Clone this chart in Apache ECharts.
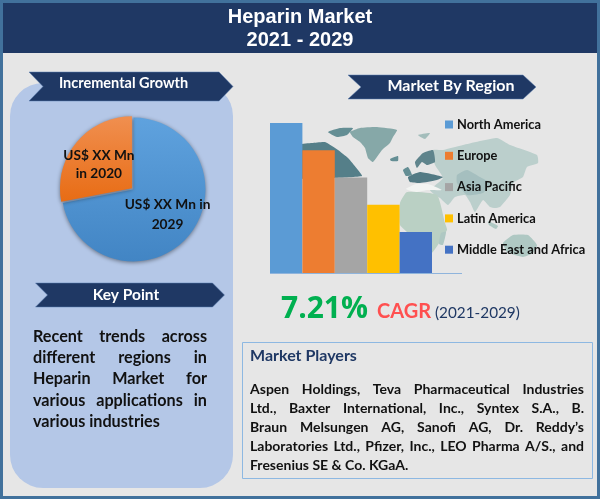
<!DOCTYPE html>
<html>
<head>
<meta charset="utf-8">
<style>html,body{margin:0;padding:0;background:#E6E6E6}#main{width:600px;height:499px}</style>
<script src="https://cdn.jsdelivr.net/npm/echarts@6/dist/echarts.min.js"></script>
</head>
<body>
<div id="main"></div>
<script>
var regionNames = ['North America', 'Europe', 'Asia Pacific', 'Latin America', 'Middle East and Africa'];
var regionValues = [5.5, 4.5, 3.5, 2.5, 1.5];
var regionColors = ['#5B9BD5', '#ED7D31', '#A5A5A5', '#FFC000', '#4472C4'];
var pieNames = ['US$ XX Mn in\n2029', 'US$ XX Mn\nin 2020'];
var pieValues = [72, 28];
var keyPointLines = ['Recent trends across', 'different regions in', 'Heparin Market for', 'various applications in', 'various industries'];
var playerLines = ['Aspen Holdings, Teva Pharmaceutical Industries', 'Ltd., Baxter International, Inc., Syntex S.A., B.', 'Braun Melsungen AG, Sanofi AG, Dr. Reddy\u2019s', 'Laboratories Ltd., Pfizer, Inc., LEO Pharma A/S., and', 'Fresenius SE & Co. KGaA.'];

var NAVY = '#1F3864';
var FONT = 'Lato';
var measure = document.createElement('canvas').getContext('2d');

// canvas text has no justify, so place the words one by one
function justified(lines, x, y, width, lineH, font, size) {
	var out = [];
	var fontStr = 'bold ' + size + 'px ' + font;
	measure.font = fontStr;
	lines.forEach(function (line, i) {
		var words = line.split(' ');
		var total = 0;
		words.forEach(function (w) { total += measure.measureText(w).width; });
		var last = i == lines.length - 1;
		var gap = last ? measure.measureText(' ').width : (width - total) / (words.length - 1);
		var cx = x;
		words.forEach(function (w) {
			out.push({
				type: 'text', z: 10, x: cx, y: y + i * lineH,
				style: { text: w, font: fontStr, fill: '#111', textVerticalAlign: 'middle' }
			});
			cx += measure.measureText(w).width + gap;
		});
	});
	return out;
}

function ribbon(x, y, w, h, notch, text, textX, textY, size) {
	return [{
		type: 'polygon', z: 5,
		shape: { points: [[x, y], [x + w - notch, y], [x + w, y + h / 2], [x + w - notch, y + h], [x, y + h], [x + notch, y + h / 2]] },
		style: { fill: NAVY, stroke: '#5B7FB0', lineWidth: 0.5 }
	}, {
		type: 'text', z: 6, x: textX, y: textY,
		style: { text: text, font: 'bold ' + size + 'px ' + FONT, fill: '#fff', textAlign: 'center', textVerticalAlign: 'middle' }
	}];
}

// faint world map behind the bars, decoration only
function land(points, fill) {
	return { type: 'polygon', z: 1, silent: true, shape: { points: points, smooth: 0.15 }, style: { fill: fill } };
}
var mapShapes = [
	land([[350, 132], [360, 128], [377, 127], [397, 130], [393, 137], [390, 143], [382, 150], [373, 162], [368, 158], [365, 148], [360, 142], [353, 137]], '#86A8A8'),
	land([[328, 132], [340, 128], [353, 128], [347, 135], [337, 137]], '#648E94'),
	land([[300, 145], [312, 143], [325, 142], [338, 150], [348, 158], [354, 165], [358, 170], [362, 176], [335, 178], [300, 178]], '#557F89'),
	land([[390, 159], [398, 156], [398, 161], [391, 161]], '#648E94'),
	land([[418, 135], [430, 133], [425, 139]], '#A3BDBB'),
	land([[433, 150], [443, 150], [463, 145], [497, 138], [510, 145], [537, 155], [538, 163], [527, 167], [523, 177], [513, 183], [510, 195], [500, 207], [495, 208], [490, 207], [483, 200], [475, 212], [470, 202], [465, 195], [455, 197], [448, 205], [440, 198], [435, 195], [430, 190], [443, 178], [435, 165]], '#BBCFCC'),
	land([[457, 175], [467, 170], [480, 177], [490, 183], [483, 193], [467, 195], [457, 183]], '#A5BFBF'),
	land([[400, 203], [407, 192], [437, 195], [445, 223], [447, 230], [432, 253], [420, 255], [410, 235], [400, 225]], '#BAD0C4'),
	land([[441, 233], [446, 232], [443, 245], [439, 244]], '#AFC8C3'),
	land([[503, 243], [513, 235], [528, 235], [537, 245], [533, 253], [523, 257], [507, 252]], '#AFC8C3'),
	land([[488, 221], [498, 226], [496, 229], [489, 225]], '#AFC8C3'),
	land([[403, 170], [408, 167], [412, 175], [406, 176]], '#648E94'),
	land([[415, 162], [423, 153], [433, 150], [435, 162], [427, 165], [422, 162], [417, 168]], '#5F848C'),
	land([[408, 177], [420, 172], [443, 177], [437, 180], [420, 183], [410, 182]], '#537A84'),
	land([[406, 189], [416, 184], [428, 184], [442, 190], [428, 190], [416, 192]], '#F2F4F2')
];

var graphics = [
	{ type: 'rect', z: -5, shape: { x: 1.5, y: 1.5, width: 597, height: 496 }, style: { fill: '#E6E6E6', stroke: '#41719C', lineWidth: 3 } },
	{ type: 'rect', z: -4, shape: { x: 3, y: 3, width: 594, height: 50 }, style: { fill: NAVY } },
	{ type: 'rect', z: -3, shape: { x: 10, y: 83, width: 223, height: 405, r: 33 }, style: { fill: '#B4C7E7' } },
	{ type: 'line', z: 3, shape: { x1: 270, y1: 273.5, x2: 462, y2: 273.5 }, style: { stroke: '#8FB4DC', lineWidth: 1 } },
	{ type: 'rect', z: 1, shape: { x: 242.5, y: 342.5, width: 350, height: 136 }, style: { fill: 'none', stroke: '#8DB8E2', lineWidth: 1 } },
	{ type: 'text', z: 6, x: 250, y: 356, style: { text: 'Market Players', font: 'bold 16px ' + FONT, fill: NAVY, textVerticalAlign: 'middle' } },
	{ type: 'text', z: 6, x: 281, y: 309, style: { text: '7.21%', font: 'bold 30px "Open Sans"', fill: '#00B050', textVerticalAlign: 'middle' } },
	{ type: 'text', z: 6, x: 377, y: 312, style: { text: 'CAGR', font: 'bold 20px ' + FONT, fill: '#FF5050', textVerticalAlign: 'middle' } },
	{ type: 'text', z: 6, x: 435, y: 313, style: { text: '(2021-2029)', font: '15.3px ' + FONT, fill: NAVY, textVerticalAlign: 'middle' } }
];
graphics = graphics.concat(mapShapes)
	.concat(ribbon(29, 72, 204, 29, 14, 'Incremental Growth', 123.5, 83, 14.5))
	.concat(ribbon(35.5, 283, 189, 24, 12, 'Key Point', 126, 295, 15.5))
	.concat(ribbon(348, 75, 188, 24, 13, 'Market By Region', 451, 86, 16))
	.concat(justified(keyPointLines, 33, 336.5, 174, 21.3, FONT, 16.2))
	.concat(justified(playerLines, 250, 389, 334, 19, FONT, 14));

var barSeries = regionNames.map(function (name, i) {
	return { name: name, type: 'bar', barWidth: 32.4, barGap: 0, z: 3, data: [regionValues[i]], itemStyle: { color: regionColors[i] } };
});

var chart = echarts.init(document.getElementById('main'));
chart.setOption({
	animation: false,
	title: {
		text: 'Heparin Market\n2021 - 2029', left: 'center', top: 1,
		textStyle: { color: '#fff', fontFamily: 'Liberation Sans', fontWeight: 'bold', fontSize: 20, lineHeight: 23 }
	},
	grid: { left: 270, top: 123, width: 162, height: 150 },
	xAxis: { type: 'category', data: ['2021'], show: false },
	yAxis: { type: 'value', min: 0, max: 5.5, show: false },
	legend: {
		orient: 'vertical', left: 440, top: 112, itemWidth: 8, itemHeight: 8, itemGap: 16.3,
		data: regionNames, icon: 'rect',
		textStyle: { color: '#111', fontFamily: FONT, fontWeight: 'bold', fontSize: 12.8, padding: [0, 0, 0, -1], height: 15, lineHeight: 15 }
	},
	series: barSeries.concat([{
		type: 'pie', z: 4, radius: 72, center: [133.5, 189.5], startAngle: 90, silent: true,
		selectedMode: 'single', selectedOffset: 2,
		data: [
			{ name: pieNames[0], value: pieValues[0], label: { lineHeight: 20 } },
			{ name: pieNames[1], value: pieValues[1], selected: true }
		],
		itemStyle: { shadowBlur: 4, shadowColor: 'rgba(0,0,0,0.45)', shadowOffsetY: 1 },
		color: [
			new echarts.graphic.LinearGradient(0, 0, 0, 1, [{ offset: 0, color: '#5FA2DE' }, { offset: 1, color: '#4285C4' }]),
			new echarts.graphic.LinearGradient(0, 0, 0, 1, [{ offset: 0, color: '#F08F50' }, { offset: 1, color: '#E86C14' }])
		],
		label: { position: 'inside', color: '#111', fontFamily: FONT, fontWeight: 'bold', fontSize: 13.7, lineHeight: 18 },
		labelLayout: function (params) {
			return params.dataIndex == 1 ? { dx: -3, dy: 1 } : { dx: 4, dy: 0.5 };
		},
		labelLine: { show: false }
	}]),
	graphic: graphics
});
</script>
</body>
</html>
